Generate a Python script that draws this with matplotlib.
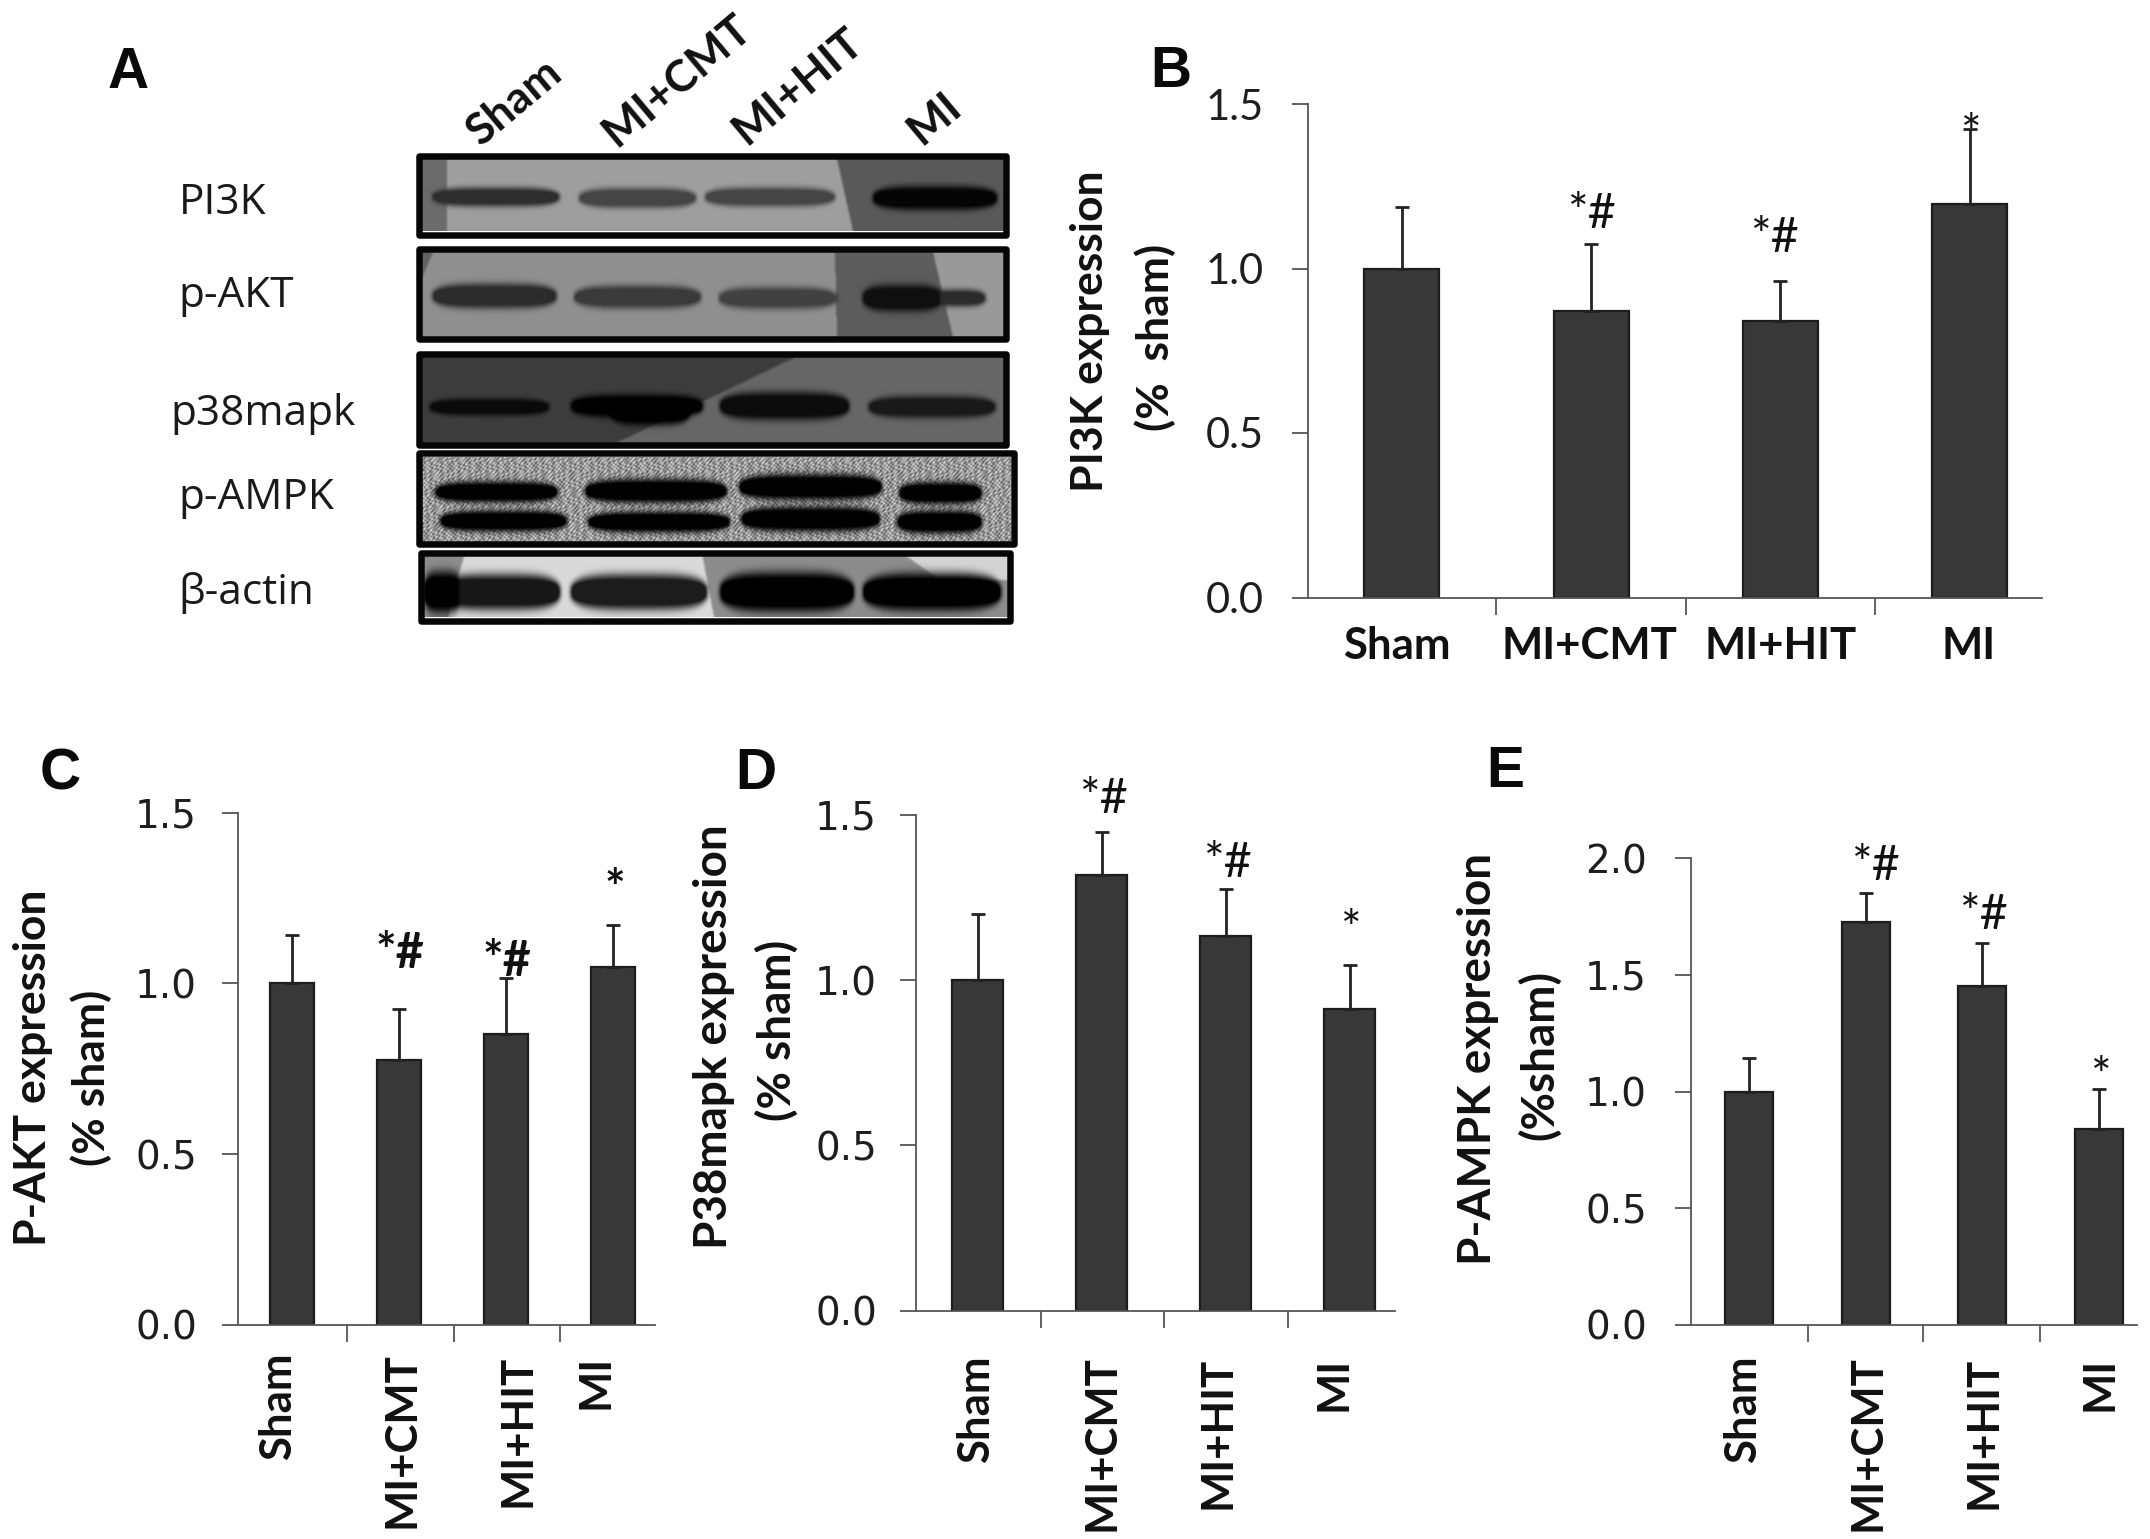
import numpy as np
import matplotlib
matplotlib.use("Agg")
import matplotlib.pyplot as plt
from matplotlib.path import Path
from matplotlib.patches import Rectangle

W, H = 2150, 1539
DPI = 100
PT = 72 / DPI  # points per pixel

# ---------- data ----------
groups = ["Sham", "MI+CMT", "MI+HIT", "MI"]
pi3k_vals = [1.00, 0.87, 0.84, 1.195]
pi3k_errs = [0.187, 0.204, 0.123, 0.228]
pi3k_marks = ["", "*#", "*#", "*"]
akt_vals = [1.00, 0.775, 0.853, 1.047]
akt_errs = [0.143, 0.151, 0.162, 0.125]
akt_marks = ["", "*#", "*#", "*"]
p38_vals = [1.00, 1.319, 1.133, 0.914]
p38_errs = [0.20, 0.129, 0.142, 0.131]
p38_marks = ["", "*#", "*#", "*"]
ampk_vals = [1.00, 1.726, 1.45, 0.84]
ampk_errs = [0.144, 0.124, 0.188, 0.172]
ampk_marks = ["", "*#", "*#", "*"]
ticks_15 = [0.0, 0.5, 1.0, 1.5]
ticks_20 = [0.0, 0.5, 1.0, 1.5, 2.0]
blot_names = ["PI3K", "p-AKT", "p38mapk", "p-AMPK", "β-actin"]

# band tone per lane (0 = black, 1 = white), read from the blots
pi3k_tone = [0.18, 0.27, 0.27, 0.02]
akt_tone = [0.17, 0.23, 0.26, 0.06]
p38_tone = [0.04, 0.0, 0.05, 0.10]
ampk_tone = [0.0, 0.0, 0.0, 0.0]
actin_tone = [0.09, 0.11, 0.0, 0.0]

# ---------- layout (figure pixels, y downwards) ----------
fig = plt.figure(figsize=(W / DPI, H / DPI), dpi=DPI, facecolor="white")
ov = fig.add_axes([0, 0, 1, 1], zorder=5)
ov.set_xlim(0, W)
ov.set_ylim(H, 0)
ov.axis("off")
ov.patch.set_alpha(0)

SANS = "Lato"
TXT = "#111111"
BAR = "#383838"
EDGE = "#1c1c1c"
AXC = "#555555"


def panel(letter, lx, ly, x0, x1, ytop, ybot, first, step, bw, ymax, yticks,
          vals, errs, marks, mark_xy, xticks, labels_xy, lab1, lab1_xy, lab2, lab2_xy,
          tick_font, tick_size, tick_right, bold_marks, xlab_rot=90, ylab_size=32):
    ax = fig.add_axes([x0 / W, 1 - ybot / H, (x1 - x0) / W, (ybot - ytop) / H], zorder=2)
    ax.set_xlim((x0 - first) / step, (x1 - first) / step)
    ax.set_ylim(0, ymax)
    xs = np.arange(len(vals))
    ax.bar(xs, vals, width=bw / step, color=BAR, edgecolor=EDGE, linewidth=1.6)
    zeros = np.zeros(len(errs))
    ax.errorbar(xs, vals, yerr=[zeros, errs], fmt="none", ecolor="#222222",
                elinewidth=2.0, capsize=5, capthick=2.0, zorder=3, clip_on=False)
    for s in ("top", "right"):
        ax.spines[s].set_visible(False)
    for s in ("left", "bottom"):
        ax.spines[s].set_color(AXC)
        ax.spines[s].set_linewidth(1.3)
    ax.set_xticks([(t - first) / step for t in xticks])
    ax.set_xticklabels([])
    ax.tick_params(axis="x", length=17 * PT, width=1.3, color=AXC)
    ax.set_yticks(yticks)
    ax.set_yticklabels([])
    ax.tick_params(axis="y", length=16 * PT, width=1.3, color=AXC)
    for t in yticks:
        ypix = ybot - (ybot - ytop) * t / ymax
        ov.text(tick_right, ypix, f"{t:.1f}", ha="right", va="center_baseline",
                family=tick_font, fontsize=tick_size, color="#1e1e1e")
    for m, (mx, my) in zip(marks, mark_xy):
        if m:
            ov.text(mx, my, m, ha="center", va="center", family=SANS,
                    fontsize=35, weight="bold" if bold_marks else "normal", color=TXT)
    for g, (gx, gy) in zip(groups, labels_xy):
        if xlab_rot == 90:
            ov.text(gx, gy, g, rotation=90, ha="center", va="top", family=SANS,
                    fontsize=31.5, weight="bold", color=TXT)
        else:
            ov.text(gx, gy, g, ha="center", va="center", family=SANS,
                    fontsize=31.5, weight="bold", color=TXT)
    ov.text(lab1_xy[0], lab1_xy[1], lab1, rotation=90, ha="center", va="center",
            family=SANS, fontsize=ylab_size, weight="bold", color=TXT)
    ov.text(lab2_xy[0], lab2_xy[1], lab2, rotation=90, ha="center", va="center",
            family=SANS, fontsize=ylab_size, weight="bold", color=TXT)
    ov.text(lx, ly, letter, ha="left", va="baseline", family="Liberation Sans",
            fontsize=41, weight="bold", color="#0a0a0a")


panel("B", 1150, 87, 1307.5, 2041.5, 104, 597.5, 1401.6, 189.4, 75, 1.5, ticks_15,
      pi3k_vals, pi3k_errs, pi3k_marks,
      [(0, 0), (1591, 214), (1774, 238), (1970, 135)],
      [1496, 1686, 1874.6],
      [(1397, 646), (1589, 646), (1781, 646), (1969, 646)],
      "PI3K expression", (1090, 331), "(%  sham)", (1155, 337),
      "Lato", 30, 1264, False, xlab_rot=0)

panel("C", 40, 789, 237.5, 655, 812.6, 1325, 292, 107, 44, 1.5, ticks_15,
      akt_vals, akt_errs, akt_marks,
      [(0, 0), (400, 954), (507, 962), (615, 890)],
      [347, 453.6, 560],
      [(278, 1352), (401, 1352), (517, 1355), (595, 1355)],
      "P-AKT expression", (33, 1068), "(% sham)", (91, 1078),
      "DejaVu Sans", 28, 197, True)

panel("D", 735, 789, 915.7, 1395, 815, 1310.5, 977.8, 124, 51, 1.5, ticks_15,
      p38_vals, p38_errs, p38_marks,
      [(0, 0), (1103, 799), (1227, 863), (1350.5, 931)],
      [1040.7, 1164.4, 1287.6],
      [(976, 1355), (1101, 1355), (1217, 1357), (1333, 1357)],
      "P38mapk expression", (714, 1037), "(% sham)", (777, 1030),
      "DejaVu Sans", 28, 877, False, ylab_size=33)

panel("E", 1486, 787, 1690.8, 2137, 858, 1325, 1749, 116.5, 48, 2.0, ticks_20,
      ampk_vals, ampk_errs, ampk_marks,
      [(0, 0), (1875, 866), (1983, 915), (2100, 1078)],
      [1807.9, 1922.7, 2040],
      [(1743, 1355), (1867, 1355), (1984, 1357), (2100, 1357)],
      "P-AMPK expression", (1478, 1059), "(%sham)", (1539, 1055),
      "DejaVu Sans", 28, 1647, False, ylab_size=33)

# ---------- panel A: blots ----------
ov.text(108, 88, "A", ha="left", va="baseline", family="Liberation Sans",
        fontsize=41, weight="bold", color="#0a0a0a")
head_xy = [(515, 102), (677, 80), (798, 86), (934, 118)]
for g, (hx, hy) in zip(groups, head_xy):
    ov.text(hx, hy, g, rotation=40, ha="center", va="center", family=SANS,
            fontsize=32, weight="bold", color=TXT, rotation_mode="anchor")
name_xy = [(178.6, 203), (178, 296), (170, 414), (178.6, 498), (178.6, 593)]
for n, (nx, ny) in zip(blot_names, name_xy):
    ov.text(nx, ny, n, ha="left", va="center", family="Open Sans", fontsize=30.5, color="#1a1a1a")


def smooth(img, passes):
    k = np.array([1, 2, 1]) / 4
    for _ in range(passes):
        img = np.apply_along_axis(lambda r: np.convolve(np.pad(r, 1, mode="edge"), k, "valid"), 1, img)
        img = np.apply_along_axis(lambda c: np.convolve(np.pad(c, 1, mode="edge"), k, "valid"), 0, img)
    return img


def blot(extent, base, polys, bands, texture=False, outer=None):
    x0, x1, y0, y1 = extent
    xs = np.arange(x0, x1) + 0.5
    ys = np.arange(y0, y1) + 0.5
    X, Y = np.meshgrid(xs, ys)
    img = np.full(X.shape, float(base))
    pts = np.column_stack([X.ravel(), Y.ravel()])
    for verts, tone in polys:
        mask = Path(verts).contains_points(pts).reshape(X.shape)
        img[mask] = tone
    img = smooth(img, 2)
    dark = np.zeros(X.shape)
    tone_map = np.zeros(X.shape)
    for bx0, bx1, yc, hh, tone in bands:
        cx = (bx0 + bx1) / 2
        half = (bx1 - bx0) / 2
        u = np.clip(np.abs(X - cx) / half, 0, 1.6)
        taper = np.clip(1 - u ** 4, 0, 1)
        m = np.exp(-((Y - yc) / (hh * (0.25 + 0.75 * taper ** 0.5))) ** 4) * (u < 1)
        tone_map = np.where(m > dark, tone, tone_map)
        dark = np.maximum(dark, m)
    dark = smooth(dark, 8)
    tone_map = smooth(tone_map, 4)
    if texture:
        img = img + 0.17 * np.sin(X * 0.9 + 3 * np.sin(Y * 0.37)) * np.sin(Y * 0.8 + 2 * np.sin(X * 0.23)) \
            + 0.08 * np.sin(X * 1.7 + Y * 1.3)
    dark = np.clip(dark * 1.25, 0, 1)
    img = img * (1 - dark) + tone_map * dark
    ov.imshow(np.clip(img, 0, 1), extent=(x0, x1, y1, y0), cmap="gray", vmin=0, vmax=1,
              aspect="auto", interpolation="bilinear", zorder=1)
    ox0, ox1, oy0, oy1 = outer
    ov.add_patch(Rectangle((ox0 + 3, oy0 + 3), ox1 - ox0 - 6, oy1 - oy0 - 6, fill=False,
                           ec="#060606", lw=6.5 * PT, joinstyle="round", zorder=2))


# PI3K
t = pi3k_tone
blot((421, 1004, 159, 231), 0.62,
     [([(421, 159), (447, 159), (447, 231), (421, 231)], 0.42),
      ([(837, 159), (1004, 159), (1004, 231), (853, 231)], 0.35)],
     [(433, 559, 197, 9.5, t[0]), (580, 695, 198, 10, t[1]), (706, 834, 197, 9.5, t[2]), (873, 997, 198, 12, t[3])],
     outer=(415.5, 1009, 153, 238))
# p-AKT
t = akt_tone
blot((421, 1004, 252, 337), 0.56,
     [([(421, 252), (433, 252), (421, 280)], 0.38),
      ([(835, 252), (933, 252), (953, 337), (837, 337)], 0.36),
      ([(933, 252), (1004, 252), (1004, 337), (953, 337)], 0.60)],
     [(433, 556, 296, 12.5, t[0]), (575, 700, 297, 11.5, t[1]), (720, 836, 298, 11, t[2]),
      (930, 985, 298, 8.5, 0.17), (863, 942, 298, 13.5, t[3])],
     outer=(415.5, 1009, 246, 342))
# p38
t = p38_tone
blot((421, 1004, 357, 443), 0.40,
     [([(421, 357), (796, 357), (616, 443), (421, 443)], 0.24)],
     [(430, 549, 407, 8.5, t[0]), (571, 703, 406, 11.5, t[1]), (610, 690, 412, 13, t[1]),
      (720, 849, 406, 14, t[2]), (869, 995, 407, 11, t[3])],
     outer=(415.5, 1009, 351, 448))
# p-AMPK
t = ampk_tone
blot((421, 1011, 457, 542), 0.60, [],
     [(435, 558, 492, 10.5, t[0]), (440, 567, 521, 10.5, t[0]),
      (585, 727, 491, 12, t[1]), (588, 730, 522, 10.5, t[1]),
      (739, 882, 487, 13, t[2]), (741, 880, 519, 12.5, t[2]),
      (899, 982, 493, 11, t[3]), (897, 982, 522, 11.5, t[3])],
     texture=True, outer=(415.5, 1017, 450, 547))
# beta-actin
t = actin_tone
blot((423, 1008, 553, 617), 0.55,
     [([(465, 553), (702, 553), (714, 617), (449, 617), (452, 598)], 0.85),
      ([(902, 553), (1008, 553), (1008, 580), (940, 580)], 0.83)],
     [(424, 462, 592, 21, 0.0), (440, 560, 592, 18, t[0]), (571, 707, 592, 18, t[1]),
      (720, 854, 592, 20, t[2]), (863, 1001, 592, 19, t[3])],
     outer=(418, 1013, 550, 624))

ov.set_xlim(0, W)
ov.set_ylim(H, 0)
fig.savefig("out.png", dpi=DPI, facecolor="white")
